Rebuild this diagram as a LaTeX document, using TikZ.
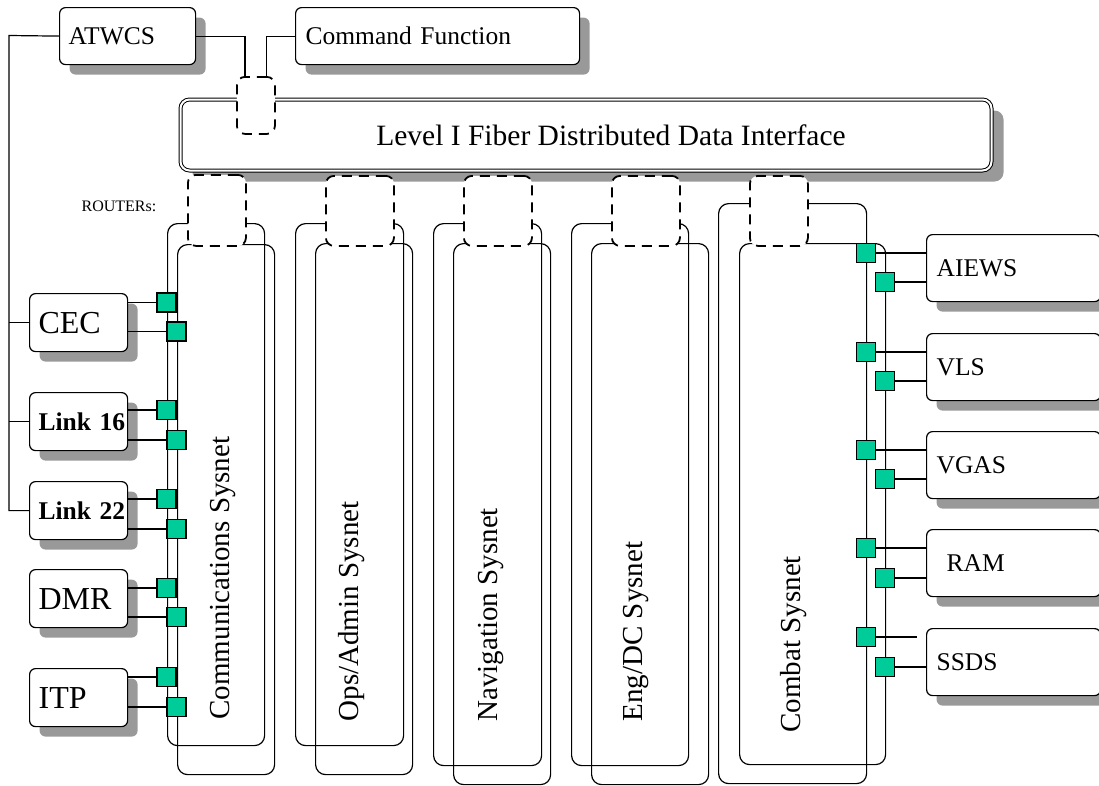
\documentclass[tikz,border=0pt]{standalone}
\usepackage{fontspec}
\setmainfont{Liberation Serif}
\usepackage{tikz}
\usetikzlibrary{shadows}
\definecolor{portgreen}{RGB}{0,204,153}
\newcommand{\unitfont}{\fontsize{25.5}{30}\selectfont}
\newcommand{\bigunitfont}{\fontsize{32}{36}\selectfont}
\newcommand{\netfont}{\fontsize{29}{33}\selectfont}

\begin{document}
\begin{tikzpicture}[x = 1pt, y = -1pt, line width = 1.2pt,
                        unit/.style = {draw, fill = white, rounded corners = 6pt, anchor = north west, inner ysep = 0pt, align = left,
                                       general shadow = {fill = black!40, shadow xshift = 10pt, shadow yshift = -10pt}},
                        leftunit/.style = {unit, inner xsep = 9pt, text width = 80pt, minimum height = 58pt, font = \bigunitfont},
                        rightunit/.style = {unit, inner xsep = 10pt, text width = 154pt, minimum height = 67pt, font = \unitfont},
                        net/.style = {draw, rounded corners = 10pt, anchor = north west, inner sep = 0pt},
                        router/.style = {draw, fill = white, dash pattern = on 10pt off 7pt, line width = 1.8pt, rounded corners = 8pt, anchor = north west, inner sep = 0pt},
                        port/.style = {draw, fill = portgreen, minimum size = 19pt, inner sep = 0pt},
                        netlabel/.style = {rotate = 90, anchor = base west, inner sep = 0pt, font = \netfont}]
      \useasboundingbox (0, 0) rectangle (1099, 785);

      \node [draw, fill = white, double, double distance = 2pt, line width = 1pt, rounded corners = 9pt, anchor = north west, inner sep = 0pt,
             minimum width = 811pt, minimum height = 71pt,
             general shadow = {fill = black!40, shadow xshift = 12pt, shadow yshift = -11pt},
             label = {[xshift = 25pt, font = \fontsize{29.5}{34}\selectfont]center:Level I Fiber Distributed Data Interface}] (fddi) at (180, 99){};

      \node [net, minimum width = 97pt, minimum height = 522pt] (comA) at (167, 223){};
      \node [net, minimum width = 97pt, minimum height = 530pt] (comB) at (177, 244){};
      \node [net, minimum width = 108pt, minimum height = 522pt] (opsA) at (295, 223){};
      \node [net, minimum width = 97pt, minimum height = 531pt] (opsB) at (315, 243){};
      \node [net, minimum width = 108pt, minimum height = 542pt] (navA) at (433, 223){};
      \node [net, minimum width = 97pt, minimum height = 541pt] (navB) at (453, 243){};
      \node [net, minimum width = 117pt, minimum height = 542pt] (engA) at (571, 223){};
      \node [net, minimum width = 117pt, minimum height = 541pt] (engB) at (591, 243){};
      \node [net, minimum width = 148pt, minimum height = 580pt] (cbtA) at (718, 203){};
      \node [net, minimum width = 146pt, minimum height = 521pt] (cbtB) at (739, 243){};

      \node [netlabel] (comtext) at (229, 720){Communications Sysnet};
      \node [netlabel] (opstext) at (358, 722){Ops/Admin Sysnet};
      \node [netlabel] (navtext) at (497, 722){Navigation Sysnet};
      \node [netlabel] (engtext) at (642, 722){Eng/DC Sysnet};
      \node [netlabel] (cbttext) at (800, 733){Combat Sysnet};

      \node [router, minimum width = 38pt, minimum height = 57pt] (rtop) at (236, 76){};
      \node [router, minimum width = 58pt, minimum height = 71pt] (rcom) at (187, 174){};
      \node [router, minimum width = 68pt, minimum height = 70pt] (rops) at (325, 175){};
      \node [router, minimum width = 68pt, minimum height = 70pt] (rnav) at (463, 175){};
      \node [router, minimum width = 68pt, minimum height = 70pt] (reng) at (611, 175){};
      \node [router, minimum width = 58pt, minimum height = 70pt] (rcbt) at (749, 175){};
      \node [anchor = west, inner sep = 0pt, font = \fontsize{16}{18}\selectfont] (routers) at (81, 206){ROUTERs:};

      \node [unit, inner xsep = 9pt, text width = 118pt, minimum height = 57pt, font = \unitfont] (atwcs) at (59, 7){ATWCS};
      \node [unit, inner xsep = 10pt, text width = 264pt, minimum height = 57pt, font = \unitfont] (cmd) at (295, 7){Command Function};

      \node [leftunit] (cec) at (29, 293){CEC};
      \node [leftunit, font = \unitfont\bfseries] (link16) at (29, 392){Link~16};
      \node [leftunit, font = \unitfont\bfseries] (link22) at (29, 481){Link~22};
      \node [leftunit] (dmr) at (29, 569){DMR};
      \node [leftunit] (itp) at (29, 668){ITP};

      \node [rightunit] (aiews) at (926, 234){AIEWS};
      \node [rightunit] (vls) at (926, 333){VLS};
      \node [rightunit] (vgas) at (926, 431){VGAS};
      \node [rightunit] (ram) at (926, 529){\hspace*{10pt}RAM};
      \node [rightunit] (ssds) at (926, 628){SSDS};

      \node [port] (p1a) at (166.5, 302.5){};
      \node [port] (p1b) at (176.5, 331.5){};
      \node [port] (p2a) at (166.5, 410){};
      \node [port] (p2b) at (176.5, 440){};
      \node [port] (p3a) at (166.5, 499){};
      \node [port] (p3b) at (176.5, 529){};
      \node [port] (p4a) at (166.5, 588){};
      \node [port] (p4b) at (176.5, 617){};
      \node [port] (p5a) at (166.5, 677){};
      \node [port] (p5b) at (176.5, 707){};

      \node [port] (q1a) at (866, 253){};
      \node [port] (q1b) at (885, 282){};
      \node [port] (q2a) at (866, 352){};
      \node [port] (q2b) at (885, 381){};
      \node [port] (q3a) at (866, 450){};
      \node [port] (q3b) at (885, 479){};
      \node [port] (q4a) at (866, 548){};
      \node [port] (q4b) at (885, 578){};
      \node [port] (q5a) at (866, 637){};
      \node [port] (q5b) at (885, 667){};

      \coordinate (trunk) at (9, 35.5);
      \coordinate (ssdsgap) at (917, 637);
      \draw (atwcs.west) -- (trunk) -- (trunk |- link22.west) -- (link22.west);
      \draw (cec.west) -- (cec.west -| trunk);
      \draw (link16.west) -- (link16.west -| trunk);
      \draw (atwcs.east) -| ([xshift = 9pt]rtop.north west);
      \draw (cmd.west) -| ([xshift = -9pt]rtop.north east);

      \draw (p1a.west) -- (p1a.west -| cec.east);
      \draw (p1b.west) -- (p1b.west -| cec.east);
      \draw (p2a.west) -- (p2a.west -| link16.east);
      \draw (p2b.west) -- (p2b.west -| link16.east);
      \draw (p3a.west) -- (p3a.west -| link22.east);
      \draw (p3b.west) -- (p3b.west -| link22.east);
      \draw (p4a.west) -- (p4a.west -| dmr.east);
      \draw (p4b.west) -- (p4b.west -| dmr.east);
      \draw (p5a.west) -- (p5a.west -| itp.east);
      \draw (p5b.west) -- (p5b.west -| itp.east);

      \draw (q1a.east) -- (q1a.east -| aiews.west);
      \draw (q1b.east) -- (q1b.east -| aiews.west);
      \draw (q2a.east) -- (q2a.east -| vls.west);
      \draw (q2b.east) -- (q2b.east -| vls.west);
      \draw (q3a.east) -- (q3a.east -| vgas.west);
      \draw (q3b.east) -- (q3b.east -| vgas.west);
      \draw (q4a.east) -- (q4a.east -| ram.west);
      \draw (q4b.east) -- (q4b.east -| ram.west);
      \draw (q5a.east) -- (ssdsgap);
      \draw (q5b.east) -- (q5b.east -| ssds.west);
    \end{tikzpicture}
\end{document}
